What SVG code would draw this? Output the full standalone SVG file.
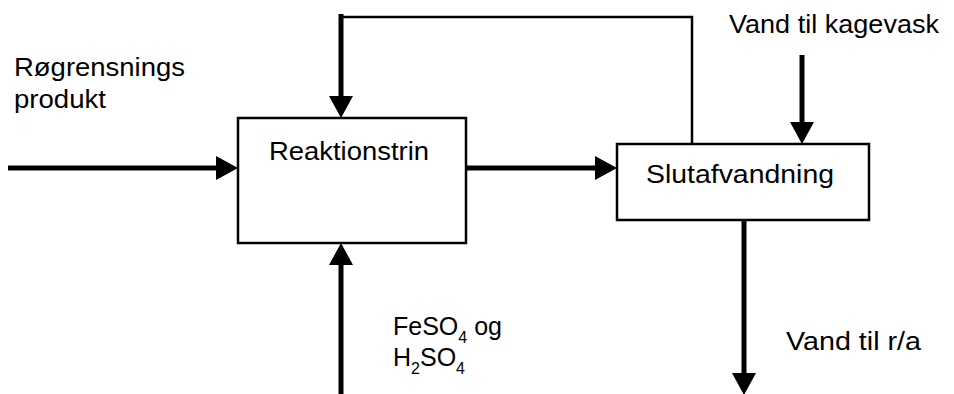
<svg xmlns="http://www.w3.org/2000/svg" width="954" height="394" viewBox="0 0 954 394">
<style>
  text { font-family: "Liberation Sans", Arial, sans-serif; fill: #000; }
  .lbl { font-size: 26px; }
  .chem { font-size: 25px; }
  .sub { font-size: 16px; }
  .box { fill: #fff; stroke: #000; stroke-width: 2.5; }
  .thick { stroke: #000; stroke-width: 5; fill: none; }
  .thin { stroke: #000; stroke-width: 2.5; fill: none; }
</style>
<defs>
  <marker id="ah" viewBox="0 0 22 24" refX="0" refY="12" markerWidth="22" markerHeight="24" markerUnits="userSpaceOnUse" orient="auto">
    <polygon points="0,0 22,12 0,24" fill="#000"/>
  </marker>
</defs>
<rect width="954" height="394" fill="#fff"/>
<g id="connectors">
  <polyline class="thin" points="341,17 692,17 692,144"/>
  <line class="thick" x1="341" y1="14" x2="341" y2="96" marker-end="url(#ah)"/>
  <line class="thick" x1="8" y1="168" x2="216" y2="168" marker-end="url(#ah)"/>
  <line class="thick" x1="466" y1="168" x2="595" y2="168" marker-end="url(#ah)"/>
  <line class="thick" x1="802" y1="55" x2="802" y2="122" marker-end="url(#ah)"/>
  <line class="thick" x1="744" y1="220" x2="744" y2="373" marker-end="url(#ah)"/>
  <line class="thick" x1="341" y1="394" x2="341" y2="265" marker-end="url(#ah)"/>
</g>
<g id="reaktionstrin">
  <rect class="box" x="238" y="118" width="228" height="125"/>
  <text class="lbl" x="269" y="160" textLength="160" lengthAdjust="spacingAndGlyphs">Reaktionstrin</text>
</g>
<g id="slutafvandning">
  <rect class="box" x="617" y="144" width="252" height="76"/>
  <text class="lbl" x="646" y="183" textLength="188" lengthAdjust="spacingAndGlyphs">Slutafvandning</text>
</g>
<g id="labels">
  <text class="lbl" x="14" y="76" textLength="171" lengthAdjust="spacingAndGlyphs">Røgrensnings</text>
  <text class="lbl" x="14" y="108" textLength="92" lengthAdjust="spacingAndGlyphs">produkt</text>
  <text class="lbl" x="729" y="33" textLength="210" lengthAdjust="spacingAndGlyphs">Vand til kagevask</text>
  <text class="lbl" x="786" y="350" textLength="135" lengthAdjust="spacingAndGlyphs">Vand til r/a</text>
  <text class="chem" x="393" y="335">FeSO<tspan class="sub" dy="8">4</tspan><tspan dy="-8"> og</tspan></text>
  <text class="chem" x="393" y="366">H<tspan class="sub" dy="8">2</tspan><tspan dy="-8">SO</tspan><tspan class="sub" dy="8">4</tspan></text>
</g>
</svg>
